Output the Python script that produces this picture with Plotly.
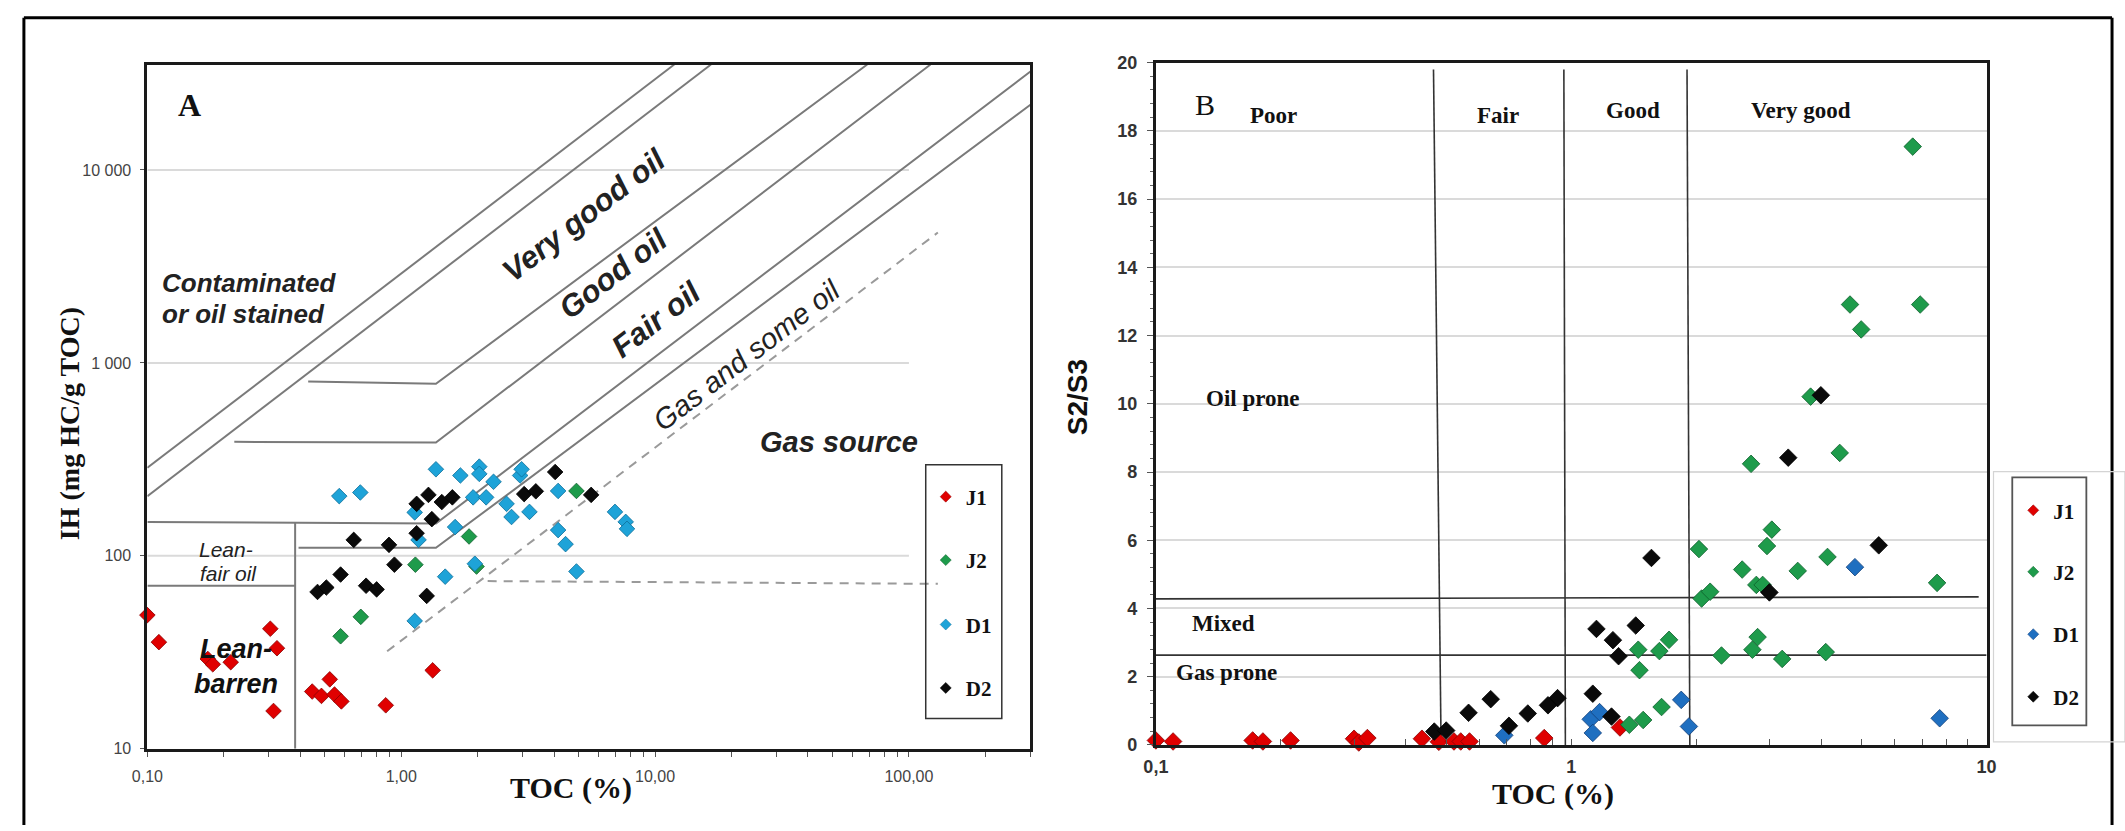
import plotly.graph_objects as go

W, H = 2125, 831

# ---------------- Panel A data: TOC (%) vs IH (mg HC/g TOC) ----------------
A_J1_toc = [0.10, 0.111, 0.305, 0.324, 0.314, 0.173, 0.181, 0.213, 0.523, 0.446, 0.485, 0.546, 0.581, 0.869, 1.33]
A_J1_ih = [49.3, 35.7, 41.9, 33.2, 15.7, 29.2, 27.4, 28.1, 22.9, 19.8, 18.8, 19.1, 17.6, 16.8, 25.5]

A_J2_toc = [0.577, 0.693, 1.137, 1.85, 1.98, 4.9]
A_J2_ih = [38.3, 48.3, 90, 126, 88, 217]

A_D1_toc = [0.57, 0.69, 1.13, 1.17, 1.13, 1.37, 1.49, 1.63, 1.71, 1.95, 1.92, 2.03, 2.03, 2.16,
            2.31, 2.6, 2.72, 2.94, 2.98, 3.2, 4.15, 4.15, 4.44, 4.9, 6.95, 7.66, 7.75]
A_D1_ih = [204, 213, 168, 121, 46, 281, 78, 141, 261, 91, 201, 290, 266, 201,
           242, 186, 159, 261, 281, 169, 217, 136, 115, 83, 169, 150, 138]

A_D2_toc = [0.468, 0.507, 0.577, 0.65, 0.727, 0.80, 0.895, 0.94, 1.15, 1.15, 1.26, 1.28, 1.32,
            1.445, 1.59, 3.05, 3.39, 4.04, 5.6]
A_D2_ih = [65, 68.5, 80, 121, 70, 67, 114, 90, 131, 186, 62, 207, 155, 190, 201, 209, 216, 272, 207]

# Panel A classification boundaries (TOC, IH)
A_L1_toc, A_L1_ih = [0.1, 11.9], [286, 35200]
A_L2_toc, A_L2_ih = [0.1, 16.6], [204, 35200]
A_L3_toc, A_L3_ih = [0.43, 1.37, 68.5], [800, 780, 35200]
A_L4_toc, A_L4_ih = [0.22, 1.37, 121.6], [390, 387, 35200]
A_L5_toc, A_L5_ih = [0.1, 1.37, 301], [150, 147, 32400]
A_L6_toc, A_L6_ih = [0.394, 1.37, 301], [110, 110, 21800]
A_LV_toc, A_LV_ih = [0.382, 0.382], [148, 10]
A_LH_toc, A_LH_ih = [0.1, 0.382], [70, 70]
A_DD_toc, A_DD_ih = [0.88, 130], [32, 4740]
A_DH_toc, A_DH_ih = [2.19, 130], [74, 71.6]
A_grid_ih = [100, 1000, 10000]
A_grid_toc = [0.1, 100]

A_xtick_vals = [0.1, 1, 10, 100]
A_xtick_text = ["0,10", "1,00", "10,00", "100,00"]
A_ytick_vals = [10, 100, 1000, 10000]
A_ytick_text = ["10", "100", "1 000", "10 000"]

# ---------------- Panel B data: TOC (%) vs S2/S3 ----------------
B_J1_toc = [0.100, 0.110, 0.171, 0.181, 0.211, 0.300, 0.308, 0.323, 0.437, 0.480, 0.522, 0.542, 0.569, 0.861, 1.31]
B_J1_s2s3 = [0.13, 0.10, 0.13, 0.10, 0.13, 0.18, 0.07, 0.20, 0.18, 0.09, 0.10, 0.10, 0.10, 0.20, 0.51]

B_J2_toc = [6.64, 4.69, 6.92, 4.99, 3.77, 4.43, 2.71, 3.04, 2.96, 2.03, 4.14, 2.58, 3.51, 2.79, 2.89,
            7.6, 2.06, 2.16, 2.81, 2.73, 2.30, 3.22, 4.10, 1.72, 1.63, 1.45, 1.46, 1.65, 1.49, 1.38]
B_J2_s2s3 = [17.54, 12.91, 12.91, 12.18, 10.21, 8.56, 8.24, 6.31, 5.83, 5.74, 5.51, 5.14, 5.10, 4.69, 4.69,
             4.75, 4.29, 4.49, 3.16, 2.79, 2.62, 2.52, 2.72, 3.08, 2.75, 2.79, 2.19, 1.11, 0.73, 0.59]

B_D1_toc = [0.69, 1.114, 1.17, 1.127, 1.84, 1.92, 4.82, 7.71]
B_D1_s2s3 = [0.28, 0.75, 0.96, 0.35, 1.32, 0.54, 5.21, 0.78]

B_D2_toc = [3.99, 3.33, 1.56, 5.5, 3.0, 1.15, 1.43, 1.26, 1.30, 1.127, 1.25, 0.927, 0.879, 0.786,
            0.64, 0.566, 0.708, 0.468, 0.50]
B_D2_s2s3 = [10.25, 8.42, 5.48, 5.85, 4.47, 3.40, 3.50, 3.07, 2.60, 1.50, 0.83, 1.37, 1.16, 0.92,
             1.34, 0.94, 0.56, 0.39, 0.42]

# Panel B classification boundaries
B_V1_toc, B_V1_s = [0.466, 0.486], [19.8, 0]
B_V2_toc, B_V2_s = [0.96, 0.968], [19.8, 0]
B_V3_toc, B_V3_s = [1.90, 1.93], [19.8, 0]
B_HM_toc, B_HM_s = [0.1, 9.57], [4.28, 4.34]
B_HG_toc, B_HG_s = [0.1, 10], [2.63, 2.63]

B_xtick_vals = [0.1, 1, 10]
B_xtick_text = ["0,1", "1", "10"]

series = ["J1", "J2", "D1", "D2"]


def minor_log_vals(lo_exp, hi_exp, last):
    vals = []
    for e in range(lo_exp, hi_exp + 1):
        for m in range(1, 10):
            v = m * 10 ** e
            if v <= last * 1.0001:
                vals.append(v)
    return vals


def px(x):
    return x / W


def py(y):
    return 1 - y / H


fig = go.Figure()

GRID = "#dadada"
BOUND = "#7a7a7a"

for g in A_grid_ih:
    fig.add_trace(go.Scatter(x=A_grid_toc, y=[g, g], mode="lines", line=dict(color=GRID, width=2),
                             showlegend=False, hoverinfo="skip", xaxis="x", yaxis="y"))
for xs, ys in [(A_L1_toc, A_L1_ih), (A_L2_toc, A_L2_ih), (A_L3_toc, A_L3_ih), (A_L4_toc, A_L4_ih),
               (A_L5_toc, A_L5_ih), (A_L6_toc, A_L6_ih), (A_LV_toc, A_LV_ih), (A_LH_toc, A_LH_ih)]:
    fig.add_trace(go.Scatter(x=xs, y=ys, mode="lines", line=dict(color=BOUND, width=2),
                             showlegend=False, hoverinfo="skip", xaxis="x", yaxis="y"))
for xs, ys in [(A_DD_toc, A_DD_ih), (A_DH_toc, A_DH_ih)]:
    fig.add_trace(go.Scatter(x=xs, y=ys, mode="lines", line=dict(color="#9a9a9a", width=2, dash="9px,7px"),
                             showlegend=False, hoverinfo="skip", xaxis="x", yaxis="y"))

for xs, ys in [(B_V1_toc, B_V1_s), (B_V2_toc, B_V2_s), (B_V3_toc, B_V3_s), (B_HM_toc, B_HM_s), (B_HG_toc, B_HG_s)]:
    fig.add_trace(go.Scatter(x=xs, y=ys, mode="lines", line=dict(color="#333333", width=1.6),
                             showlegend=False, hoverinfo="skip", xaxis="x2", yaxis="y2"))

colA = {"J1": ("#e00000", "#8a0000"), "J2": ("#1e9b4b", "#0c5e2b"),
        "D1": ("#1ea3d8", "#0e6f99"), "D2": ("#0a0a0a", "#000000")}
colB = {"J1": ("#e00000", "#8a0000"), "J2": ("#1e9b4b", "#0c5e2b"),
        "D1": ("#1f6fc0", "#123f7a"), "D2": ("#0a0a0a", "#000000")}

A_data = {"J1": (A_J1_toc, A_J1_ih), "J2": (A_J2_toc, A_J2_ih), "D1": (A_D1_toc, A_D1_ih), "D2": (A_D2_toc, A_D2_ih)}
B_data = {"J1": (B_J1_toc, B_J1_s2s3), "J2": (B_J2_toc, B_J2_s2s3), "D1": (B_D1_toc, B_D1_s2s3), "D2": (B_D2_toc, B_D2_s2s3)}

for s in series:
    xs, ys = A_data[s]
    fig.add_trace(go.Scatter(x=xs, y=ys, mode="markers", name=s, showlegend=False,
                             marker=dict(symbol="diamond", size=12, color=colA[s][0],
                                         line=dict(color=colA[s][1], width=0.8)),
                             cliponaxis=False, xaxis="x", yaxis="y"))
for s in series:
    xs, ys = B_data[s]
    fig.add_trace(go.Scatter(x=xs, y=ys, mode="markers", name=s, showlegend=False,
                             marker=dict(symbol="diamond", size=13.5, color=colB[s][0],
                                         line=dict(color=colB[s][1], width=0.8)),
                             cliponaxis=False, xaxis="x2", yaxis="y2"))

legA_x, legA_y = 941, [499, 564, 630, 695]
legB_x, legB_y = 2042, [513, 576, 640, 704]
legend_layout = {}
k = 0
for lx, lys, cols, xa, ya in [(legA_x, legA_y, colA, "x", "y"), (legB_x, legB_y, colB, "x2", "y2")]:
    for s, ly in zip(series, lys):
        k += 1
        key = "legend" if k == 1 else f"legend{k}"
        fig.add_trace(go.Scatter(x=[None], y=[None], mode="markers", name=f"<b>{s}</b>",
                                 marker=dict(symbol="diamond", size=8.5, color=cols[s][0],
                                             line=dict(color=cols[s][1], width=0.5)),
                                 legend=key, showlegend=True, hoverinfo="skip", xaxis=xa, yaxis=ya))
        legend_layout[key] = dict(x=px(lx - 20), y=py(ly), xanchor="left", yanchor="middle",
                                  bgcolor="rgba(0,0,0,0)", borderwidth=0, itemsizing="trace",
                                  font=dict(family="Liberation Serif", size=21, color="#111"))

SERIF = "Liberation Serif"
SANS = "Liberation Sans"

annotations = []


def ann(text, x, y, size, family=SANS, angle=0, xanchor="center", color="#111"):
    annotations.append(dict(text=text, x=px(x), y=py(y), xref="paper", yref="paper", showarrow=False,
                            xanchor=xanchor, yanchor="middle", textangle=angle,
                            font=dict(family=family, size=size, color=color)))


ROT = -37.6
ann("<b>A</b>", 176, 97, 32, SERIF)
ann("<b><i>Contaminated</i></b>", 146, 280, 26, xanchor="left", color="#222")
ann("<b><i>or oil stained</i></b>", 146, 312, 26, xanchor="left", color="#222")
ann("<b><i>Very good oil</i></b>", 576, 210, 31, angle=ROT, color="#222")
ann("<b><i>Good oil</i></b>", 605, 270, 31, angle=ROT, color="#222")
ann("<b><i>Fair oil</i></b>", 648, 317, 31, angle=ROT, color="#222")
ann("<i>Gas and some oil</i>", 740, 353, 29, angle=ROT, color="#222")
ann("<b><i>Gas source</i></b>", 833, 443, 29, color="#222")
ann("<i>Lean-</i>", 213, 553, 21, color="#222")
ann("<i>fair oil</i>", 215, 577, 21, color="#222")
ann("<b><i>Lean-<br>barren</i></b>", 223, 673, 27)
ann("<b>IH (mg HC/g TOC)</b>", 54, 424, 28, SERIF, angle=-90)
ann("<b>TOC (%)</b>", 562, 797, 30, SERIF)
ann("B", 1204, 97, 30, SERIF)
ann("<b>Poor</b>", 1273, 108, 23, SERIF)
ann("<b>Fair</b>", 1500, 108, 23, SERIF)
ann("<b>Good</b>", 1637, 103, 23, SERIF)
ann("<b>Very good</b>", 1807, 103, 23, SERIF)
ann("<b>Oil prone</b>", 1252, 398, 23, SERIF)
ann("<b>Mixed</b>", 1222, 629, 23, SERIF)
ann("<b>Gas prone</b>", 1226, 679, 23, SERIF)
ann("<b>S2/S3</b>", 1075, 397, 28, SANS, angle=-90)
ann("<b>TOC (%)</b>", 1556, 803, 30, SERIF)

shapes = [
    dict(type="line", xref="paper", yref="paper", x0=px(8), x1=px(2122), y0=py(8), y1=py(8), line=dict(color="black", width=3)),
    dict(type="line", xref="paper", yref="paper", x0=px(8), x1=px(8), y0=py(8), y1=py(835), line=dict(color="black", width=3)),
    dict(type="line", xref="paper", yref="paper", x0=px(2122), x1=px(2122), y0=py(8), y1=py(835), line=dict(color="black", width=3)),
    dict(type="rect", xref="paper", yref="paper", x0=px(921), x1=px(998), y0=py(726), y1=py(466), line=dict(color="#333", width=1.5)),
    dict(type="rect", xref="paper", yref="paper", x0=px(2002), x1=px(2135), y0=py(750), y1=py(473), line=dict(color="#d4d4d4", width=1.2)),
    dict(type="rect", xref="paper", yref="paper", x0=px(2021), x1=px(2096), y0=py(733), y1=py(479), line=dict(color="#555", width=1.8)),
]

tickfontA = dict(family=SANS, size=16, color="#444")
tickfontB = dict(family=SANS, size=18, color="#333", weight="bold")

A_minor = minor_log_vals(-1, 2, 301)
A_text = [A_xtick_text[A_xtick_vals.index(v)] if v in A_xtick_vals else "" for v in A_minor]
B_minor = minor_log_vals(-1, 1, 10)
B_text = [B_xtick_text[B_xtick_vals.index(v)] if v in B_xtick_vals else "" for v in B_minor]

fig.update_layout(
    width=W, height=H, margin=dict(l=0, r=0, t=0, b=0),
    paper_bgcolor="white", plot_bgcolor="white",
    showlegend=True,
    xaxis=dict(domain=[px(133), px(1027)], type="log", range=[-1, 2.4786],
               tickvals=A_minor, ticktext=A_text, tickfont=tickfontA, ticks="outside", ticklen=5,
               tickcolor="#555", showgrid=False, zeroline=False, showline=True, mirror=True,
               linecolor="#1a1a1a", linewidth=3, anchor="y", ticklabelstandoff=6),
    yaxis=dict(domain=[py(757), py(56)], type="log", range=[1, 4.546],
               tickvals=A_ytick_vals, ticktext=A_ytick_text, tickfont=tickfontA, ticks="outside", ticklen=4,
               tickcolor="#555", showgrid=False, zeroline=False, showline=True, mirror=True,
               linecolor="#1a1a1a", linewidth=3, anchor="x", ticklabelstandoff=6),
    xaxis2=dict(domain=[px(1154), px(1995)], type="log", range=[-1, 1],
                tickvals=B_minor, ticktext=B_text, tickfont=tickfontB, ticks="inside", ticklen=6,
                tickcolor="#555", showgrid=False, zeroline=False, showline=True, mirror=True,
                linecolor="#1a1a1a", linewidth=3, anchor="y2", ticklabelstandoff=4),
    yaxis2=dict(domain=[py(753), py(54)], range=[0, 20], dtick=2, tickfont=tickfontB,
                ticks="outside", ticklen=6, tickcolor="#555",
                minor=dict(dtick=0.4, ticks="outside", ticklen=3, tickcolor="#666", showgrid=False),
                showgrid=True, gridcolor=GRID, gridwidth=2, zeroline=False, showline=True, mirror=True,
                linecolor="#1a1a1a", linewidth=3, anchor="x2", ticklabelstandoff=6),
    annotations=annotations,
    shapes=shapes,
    **legend_layout,
)

fig.write_html("out.html")
